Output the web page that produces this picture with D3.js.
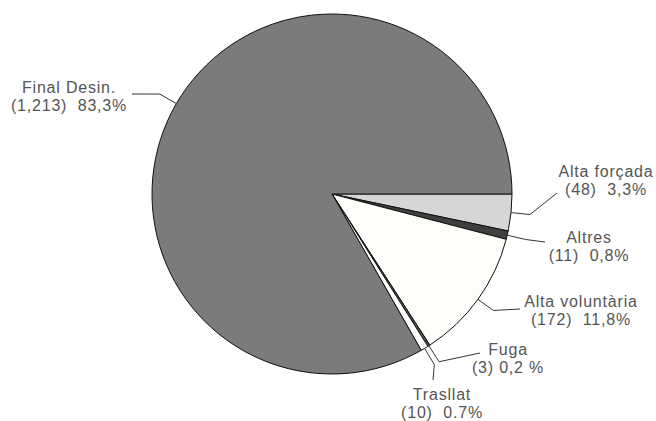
<!DOCTYPE html>
<html>
<head>
<meta charset="utf-8">
<script src="https://cdn.jsdelivr.net/npm/d3@7"></script>
<style>
  body { margin: 0; background: #fff; }
  text { font-family: "Liberation Sans", Arial, sans-serif; font-size: 16px; fill: #555; letter-spacing: 0.8px; white-space: pre; }
</style>
</head>
<body>
<div id="chart"></div>
<script>
// slices, clockwise from 3 o'clock
var categories = ['Alta forçada', 'Altres', 'Alta voluntària', 'Fuga', 'Trasllat', 'Final Desin.'];
var counts = [48, 11, 172, 3, 10, 1213];
var pct_labels = ['3,3%', '0,8%', '11,8%', '0,2 %', '0.7%', '83,3%'];
var count_gap = ['  ', '  ', '  ', ' ', '  ', '  '];
var colors = ['#d6d6d6', '#404040', '#fffdf9', '#555555', '#ffffff', '#7b7b7b'];

var chart_width = 656;
var chart_height = 421;
var cx = 332, cy = 194, radius = 180;

// label layout: text centre x, first baseline, leader end point
var label_pos = [
    {x: 606, y: 177, ex: 557, ey: 193},
    {x: 589, y: 243, ex: 545, ey: 242},
    {x: 581, y: 307, ex: 520, ey: 309},
    {x: 508, y: 355, ex: 480, ey: 353},
    {x: 442, y: 400, ex: 433, ey: 380},
    {x: 69,  y: 93,  ex: 132, ey: 94}
];

var svg = d3.select('#chart')
    .append('svg')
    .attr('width', chart_width)
    .attr('height', chart_height);

var data = categories.map(function(c, i){
    return {name: c, value: counts[i], i: i};
});

var pie = d3.pie()
    .sort(null)
    .value(function(d){ return d.value; })
    .startAngle(Math.PI / 2)
    .endAngle(Math.PI / 2 + 2 * Math.PI);

var arc = d3.arc()
    .innerRadius(0)
    .outerRadius(radius);

var arcs = pie(data);

var g = svg.append('g')
    .attr('transform', 'translate(' + cx + ',' + cy + ')');

g.selectAll('path')
    .data(arcs)
    .enter()
    .append('path')
    .attr('d', arc)
    .attr('fill', function(d){ return colors[d.data.i]; })
    .attr('stroke', '#111')
    .attr('stroke-width', 1);

function polar(a, r) {
    return [cx + r * Math.sin(a), cy - r * Math.cos(a)];
}

// leader lines
var line = d3.line();
svg.selectAll('path.leader')
    .data(arcs)
    .enter()
    .append('path')
    .attr('class', 'leader')
    .attr('fill', 'none')
    .attr('stroke', '#333')
    .attr('stroke-width', 1)
    .attr('d', function(d){
        var mid = (d.startAngle + d.endAngle) / 2;
        var p = label_pos[d.data.i];
        return line([polar(mid, radius), polar(mid, radius + 19), [p.ex, p.ey]]);
    });

// labels
var fmt = d3.format(',');
var labels = svg.selectAll('text.lbl')
    .data(arcs)
    .enter()
    .append('text')
    .attr('class', 'lbl')
    .attr('text-anchor', 'middle')
    .attr('x', function(d){ return label_pos[d.data.i].x; })
    .attr('y', function(d){ return label_pos[d.data.i].y; });

labels.append('tspan')
    .attr('x', function(d){ return label_pos[d.data.i].x; })
    .text(function(d){ return d.data.name; });

labels.append('tspan')
    .attr('x', function(d){ return label_pos[d.data.i].x; })
    .attr('dy', 18)
    .text(function(d){
        var i = d.data.i;
        return '(' + fmt(counts[i]) + ')' + count_gap[i] + pct_labels[i];
    });
</script>
</body>
</html>
